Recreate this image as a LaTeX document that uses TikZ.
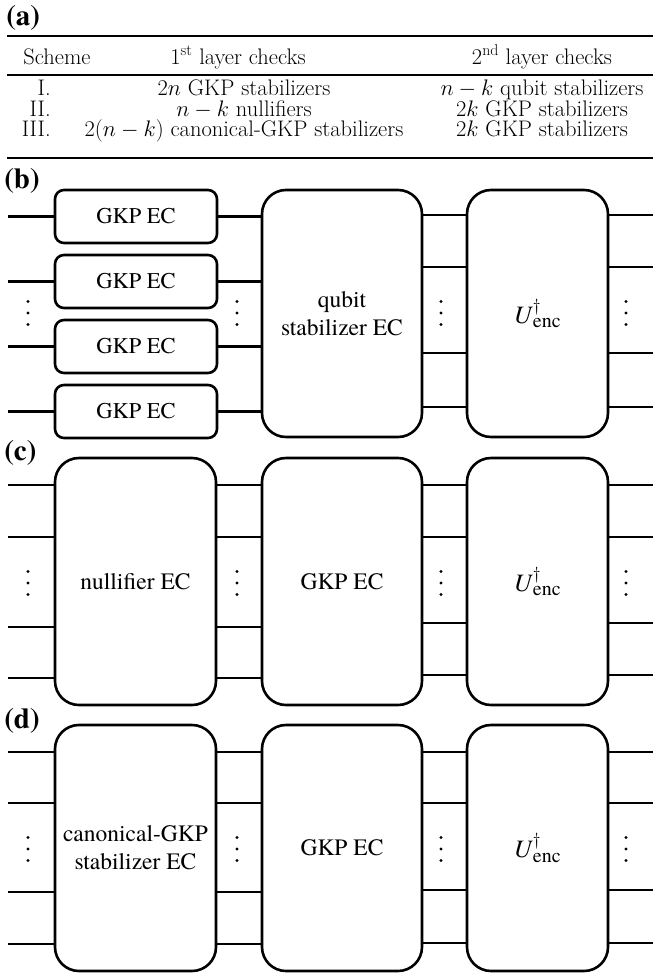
\RequirePackage{fix-cm}
\documentclass[tikz,border=0pt]{standalone}
\usepackage{amsmath}
\usepackage{fontspec}
\newfontfamily\tnr{texgyretermes}[Extension=.otf, UprightFont=*-regular, BoldFont=*-bold, ItalicFont=*-italic, BoldItalicFont=*-bolditalic]
\newcommand\uenc{{\tnr\fontsize{25}{30}\selectfont\textit{U}$^{\dagger}_{\text{\tnr\fontsize{20}{20}\selectfont enc}}$}}
\begin{document}
\begin{tikzpicture}[x=1pt,y=-1pt,line width=2.6pt,
  smallbox/.style={draw, rounded corners=9pt, minimum width=162pt, minimum height=53pt, inner sep=0pt, font=\tnr\fontsize{22.5}{27}\selectfont, align=center},
  bigbox/.style={draw, rounded corners=24pt, minimum height=247pt, inner sep=0pt, font=\tnr\fontsize{23.5}{28}\selectfont, align=center},
  lab/.style={font=\tnr\bfseries\fontsize{29}{29}\selectfont, anchor=north west, inner sep=0pt},
  tab/.style={font=\fontsize{22.5}{22.5}\selectfont, anchor=base, inner sep=0pt, text height=12pt, text depth=2pt},
  trule/.style={line width=2.2pt},
  mrule/.style={line width=1.4pt},
  dot/.style={fill=black}]
\useasboundingbox (0,0) rectangle (653,980);

% ---------- (a) table ----------
\node[lab] (la) at (5,4) {(a)};
\draw[trule] (7,36) -- (653,36);
\draw[mrule] (7,75) -- (653,75);
\draw[trule] (7,158) -- (653,158);
\node[tab] (h1) at (57,64) {Scheme};
\node[tab] (h2) at (238,64) {1\textsuperscript{st} layer checks};
\node[tab] (h3) at (542,64) {2\textsuperscript{nd} layer checks};
\node[tab, anchor=base east] (r1a) at (52,95.5) {I.};
\node[tab, anchor=base east] (r2a) at (52,116) {II.};
\node[tab, anchor=base east] (r3a) at (52,136.5) {III.};
\node[tab] (r1b) at (244,95.5) {$2n$ GKP stabilizers};
\node[tab] (r2b) at (244,116) {$n-k$ nullifiers};
\node[tab] (r3b) at (244,136.5) {$2(n-k)$ canonical-GKP stabilizers};
\node[tab] (r1c) at (542,95.5) {$n-k$ qubit stabilizers};
\node[tab] (r2c) at (542,116) {$2k$ GKP stabilizers};
\node[tab] (r3c) at (542,136.5) {$2k$ GKP stabilizers};

% ---------- (b) ----------
\node[lab] (lb) at (3,167) {(b)};
\foreach \i/\y in {1/216.5,2/281.5,3/346.5,4/411.5} {
  \node[smallbox] (bg\i) at (136,\y) {GKP EC};
  \coordinate (bin\i) at (8,\y);
}
\node[bigbox, minimum width=160pt] (bq) at (342,313.5) {qubit\\stabilizer EC};
\node[bigbox, minimum width=141pt] (bu) at (537.5,313.5) {\uenc};
\foreach \i in {1,...,4} {
  \draw (bin\i) -- (bg\i.west);
  \draw (bg\i.east) -- (bq.west |- bg\i.east);
}
\foreach \i/\y in {1/215,2/267,3/353,4/407} {
  \coordinate (bout\i) at (653,\y);
  \draw (bq.east |- bout\i) -- (bu.west |- bout\i);
  \draw (bu.east |- bout\i) -- (bout\i);
}
\foreach \x in {28,237,441,626} \foreach \d in {-11.5,0,11.5} \fill[dot] (\x,313+\d) circle (1.7pt);

% ---------- (c) ----------
\node[lab] (lc) at (3,439) {(c)};
\node[bigbox, minimum width=161pt] (cn) at (135.5,581.5) {nullifier EC};
\node[bigbox, minimum width=160pt] (cg) at (342,581.5) {GKP EC};
\node[bigbox, minimum width=141pt] (cu) at (537.5,581.5) {\uenc};
\foreach \i/\y in {1/485,2/537,3/627,4/678} {
  \coordinate (cin\i) at (8,\y);
  \draw (cin\i) -- (cn.west |- cin\i);
  \draw (cn.east |- cin\i) -- (cg.west |- cin\i);
}
\foreach \i/\y in {1/485,2/537,3/623,4/675} {
  \coordinate (cout\i) at (653,\y);
  \draw (cg.east |- cout\i) -- (cu.west |- cout\i);
  \draw (cu.east |- cout\i) -- (cout\i);
}
\foreach \x in {28,237,441,626} \foreach \d in {-11.5,0,11.5} \fill[dot] (\x,583+\d) circle (1.7pt);

% ---------- (d) ----------
\node[lab] (ld) at (3,707) {(d)};
\node[bigbox, minimum width=161pt, minimum height=246pt] (dn) at (135.5,848) {canonical-GKP\\stabilizer EC};
\node[bigbox, minimum width=160pt, minimum height=246pt] (dg) at (342,848) {GKP EC};
\node[bigbox, minimum width=141pt, minimum height=246pt] (du) at (537.5,848) {\uenc};
\foreach \i/\y in {1/752,2/803,3/892,4/944} {
  \coordinate (din\i) at (8,\y);
  \draw (din\i) -- (dn.west |- din\i);
  \draw (dn.east |- din\i) -- (dg.west |- din\i);
}
\foreach \i/\y in {1/752,2/803,3/890,4/943} {
  \coordinate (dout\i) at (653,\y);
  \draw (dg.east |- dout\i) -- (du.west |- dout\i);
  \draw (du.east |- dout\i) -- (dout\i);
}
\foreach \x in {28,237,441,626} \foreach \d in {-11.5,0,11.5} \fill[dot] (\x,849+\d) circle (1.7pt);
\end{tikzpicture}
\end{document}
